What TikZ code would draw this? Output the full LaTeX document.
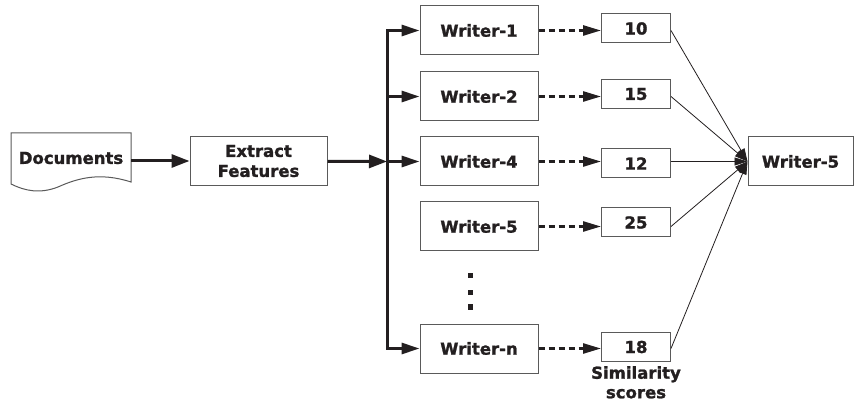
\documentclass[tikz,border=0pt]{standalone}
\usepackage{fontspec}
\setmainfont{DejaVu Sans}
\newfontfamily\heavyfont[FakeBold=1.4]{DejaVu Sans Bold}
\usetikzlibrary{arrows.meta,positioning}
\definecolor{ink}{HTML}{231F20}
\definecolor{boxgray}{HTML}{5A5A5A}
\begin{document}
\begin{tikzpicture}[x=1pt,y=-1pt,
  lbl/.style={font=\heavyfont\fontsize{16.5}{20}\selectfont, text=ink, align=center},
  box/.style={lbl, draw=boxgray, line width=1pt, minimum height=49pt, inner sep=0pt},
  wbox/.style={box, minimum width=118pt},
  sbox/.style={box, minimum width=69pt, minimum height=29pt},
  main/.style={draw=ink, line width=3pt, -{Triangle[length=18pt,width=13pt]}},
  branch/.style={draw=ink, line width=3pt, -{Triangle[length=18pt,width=11pt]}},
  score/.style={draw=ink, line width=2.6pt, dash pattern=on 6pt off 4pt, -{Triangle[length=18pt,width=10pt]}},
  vote/.style={draw=ink, line width=0.8pt, -{Triangle[length=13pt,width=8pt]}},
  dot/.style={fill=ink, minimum size=5.5pt, inner sep=0pt}]
\useasboundingbox (0,0) rectangle (856,403);

% document symbol with wavy bottom
\draw[draw=boxgray, line width=1pt, fill=white]
  (11,133) -- (131,133) -- (131,182)
  .. controls (100,172) and (78,178) .. (58,187)
  .. controls (40,194) and (25,191) .. (11,184) -- cycle;
\node[lbl, minimum width=120pt, minimum height=50pt, inner sep=0pt] (docs) at (71,158) {Documents};

\node[box, minimum width=137pt] (extract) at (258.5,161) {Extract\\Features};

% writers
\node[wbox] (w1) at (479,30.5)  {Writer-1};
\node[wbox] (w2) at (479,96.5)  {Writer-2};
\node[wbox] (w4) at (479,161.5) {Writer-4};
\node[wbox] (w5) at (479,226.5) {Writer-5};
\node[wbox] (wn) at (479,348.5) {Writer-n};

\node[dot] (d1) at (470.5,275.5) {};
\node[dot] (d2) at (470.5,292.5) {};
\node[dot] (d3) at (470.5,307)   {};

% similarity scores
\node[sbox] (s1) at (636,28.5)  {10};
\node[sbox] (s2) at (636,94)    {15};
\node[sbox] (s4) at (636,163.5) {12};
\node[sbox] (s5) at (636,222.5) {25};
\node[sbox] (sn) at (636,347)   {18};
\node[lbl, below=4pt of sn, inner sep=0pt, font=\heavyfont\fontsize{16.5}{19.5}\selectfont] (simlbl) {Similarity\\scores};

\node[box, minimum width=105pt] (target) at (800.5,161.5) {Writer-5};

% feature pipeline
\coordinate (bus) at (387,161.5);
\draw[main] (docs.east |- extract.west) -- (extract.west);
\draw[main] (extract) -- (bus);
\draw[branch] (bus |- wn) -- (bus |- w1) -- (w1.west);
\draw[branch] (bus |- w1) -- (bus |- wn) -- (wn.west);
\draw[branch] (bus |- w2) -- (w2.west);
\draw[branch] (bus) -- (w4.west);

% scoring
\foreach \w/\s in {w1/s1, w2/s2, w4/s4, w5/s5, wn/sn}{
  \draw[score] (\w.east) -- (\w.east -| \s.west);
  \draw[vote] (\s.east |- \w.east) -- (target.west);
}
\end{tikzpicture}
\end{document}
